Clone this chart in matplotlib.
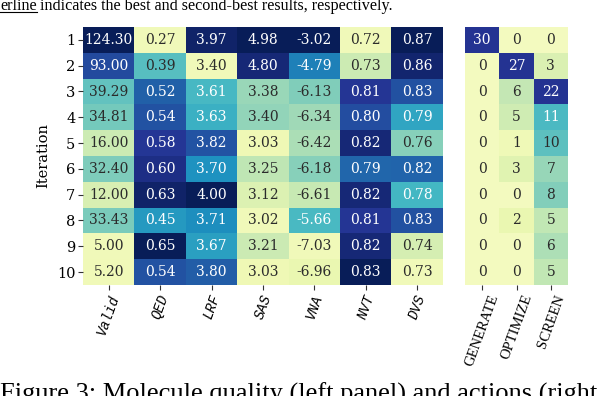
import matplotlib
matplotlib.use("Agg")
import matplotlib.pyplot as plt
import numpy as np
from matplotlib.colors import ListedColormap, PowerNorm, Normalize
from matplotlib.lines import Line2D

plt.rcParams["font.family"] = ["DejaVu Serif"]

iterations = [1, 2, 3, 4, 5, 6, 7, 8, 9, 10]

metric_names = ["Valid", "QED", "LRF", "SAS", "VNA", "NVT", "DVS"]
valid = [124.30, 93.00, 39.29, 34.81, 16.00, 32.40, 12.00, 33.43, 5.00, 5.20]
qed = [0.27, 0.39, 0.52, 0.54, 0.58, 0.60, 0.63, 0.45, 0.65, 0.54]
lrf = [3.97, 3.40, 3.61, 3.63, 3.82, 3.70, 4.00, 3.71, 3.67, 3.80]
sas = [4.98, 4.80, 3.38, 3.40, 3.03, 3.25, 3.12, 3.02, 3.21, 3.03]
vna = [-3.02, -4.79, -6.13, -6.34, -6.42, -6.18, -6.61, -5.66, -7.03, -6.96]
nvt = [0.72, 0.73, 0.81, 0.80, 0.82, 0.79, 0.82, 0.81, 0.82, 0.83]
dvs = [0.87, 0.86, 0.83, 0.79, 0.76, 0.82, 0.78, 0.83, 0.74, 0.73]

action_names = ["GENERATE", "OPTIMIZE", "SCREEN"]
generate = [30, 0, 0, 0, 0, 0, 0, 0, 0, 0]
optimize = [0, 27, 6, 5, 1, 3, 0, 2, 0, 0]
screen = [0, 3, 22, 11, 10, 7, 8, 5, 6, 5]

top_text_ul = "erline"
top_text = "indicates the best and second-best results, respectively."
caption = "Figure 3: Molecule quality (left panel) and actions (right panel)"

W, H = 604, 396
DARK_TXT = "#2b2b2b"


def col_norm(m):
    lo = m.min(axis=0)
    hi = m.max(axis=0)
    return (m - lo) / (hi - lo)


def luminance(rgba):
    rgb = np.asarray(rgba)[:3]
    rgb = np.where(rgb <= .03928, rgb / 12.92, ((rgb + .055) / 1.055) ** 2.4)
    return rgb.dot([.2126, .7152, .0722])


def draw_panel(ax, values, cmap, norm, fmt, xlabels, label_kw):
    z = col_norm(values)
    ax.imshow(z, cmap=cmap, norm=norm, aspect="auto", interpolation="nearest")
    nrow, ncol = values.shape
    for i in range(nrow):
        for j in range(ncol):
            rgba = cmap(norm(z[i, j]))
            color = DARK_TXT if luminance(rgba) > .408 else "white"
            ax.text(j, i, fmt.format(values[i, j]), ha="center", va="center",
                    color=color, fontsize=10)
    ax.set_xticks(range(ncol))
    ax.set_xticklabels(xlabels, rotation=70, ha="center", **label_kw)
    for s in ax.spines.values():
        s.set_visible(False)
    ax.tick_params(length=3.5, width=0.8, color="#333333", pad=2)


base = plt.get_cmap("YlGnBu")
left_cmap = ListedColormap(base(np.linspace(0.1, 1.0, 256)))
right_cmap = ListedColormap(base(np.linspace(0.08, 0.875, 256)))

metrics = np.array([valid, qed, lrf, sas, vna, nvt, dvs]).T
actions = np.array([generate, optimize, screen], dtype=float).T

fig = plt.figure(figsize=(W / 100, H / 100), dpi=100)
ax_l = fig.add_axes([83 / W, 1 - 285 / H, 360 / W, 258 / H])
ax_r = fig.add_axes([465 / W, 1 - 285 / H, 103 / W, 258 / H])

draw_panel(ax_l, metrics, left_cmap, PowerNorm(0.8, 0, 1), "{:.2f}", metric_names,
           dict(family="Liberation Mono", style="italic", fontsize=10))
draw_panel(ax_r, actions, right_cmap, Normalize(0, 1), "{:.0f}", action_names,
           dict(family="Liberation Serif", fontsize=10.5))

ax_l.set_yticks(range(len(iterations)))
ax_l.set_yticklabels(iterations, fontsize=10.5)
ax_l.set_ylabel("Iteration", fontsize=10.5, labelpad=5)
ax_r.set_yticks([])

# caption pieces cut off by the crop
fig.canvas.draw()
t1 = fig.text(0.0, 1 - 9.5 / H, top_text_ul, family="Liberation Serif",
              fontsize=11.6, va="baseline")
fig.canvas.draw()
bb = t1.get_window_extent()
inv = fig.transFigure.inverted()
(x0, y0), (x1, _) = inv.transform([(bb.x0, bb.y0), (bb.x1, bb.y0)])
fig.add_artist(Line2D([x0, x1], [1 - 12 / H] * 2, color="black", lw=0.8,
                      transform=fig.transFigure))
fig.text(x1 + 3.5 / W, 1 - 9.5 / H, top_text, family="Liberation Serif",
         fontsize=11.6, va="baseline")
fig.text(0.0, -4.5 / H, caption, family="Liberation Serif", fontsize=19,
         va="baseline")

fig.savefig("out.png", dpi=100)
